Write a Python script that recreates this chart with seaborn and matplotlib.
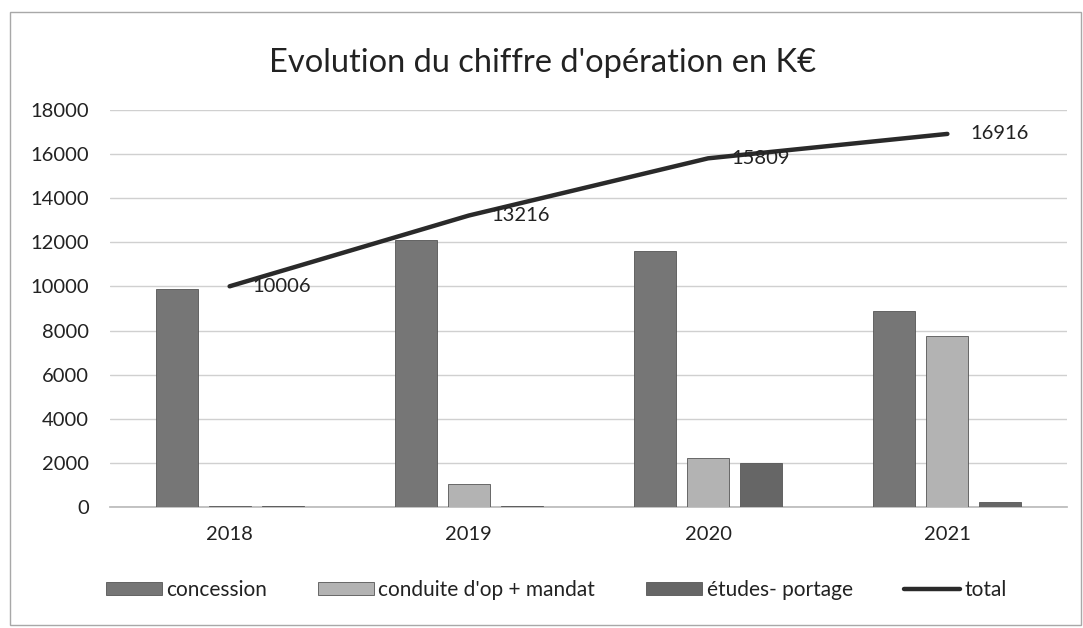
import numpy as np
import pandas as pd
import matplotlib
matplotlib.use("Agg")
import matplotlib.pyplot as plt
from matplotlib.patches import Rectangle
import seaborn as sns

# chart values
years = ["2018", "2019", "2020", "2021"]
concession = [9900, 12100, 11600, 8900]
conduite = [56, 1050, 2200, 7770]
etudes = [50, 66, 2009, 246]
total = [10006, 13216, 15809, 16916]
series_names = ["concession", "conduite d'op + mandat", "études- portage"]

df = pd.DataFrame({
    "annee": years * 3,
    "serie": [series_names[0]] * 4 + [series_names[1]] * 4 + [series_names[2]] * 4,
    "valeur": concession + conduite + etudes,
})

sns.set_theme(style="white")
plt.rcParams["font.family"] = ["Lato", "DejaVu Sans"]

fig = plt.figure(figsize=(10.83, 6.28), dpi=100)
ax = fig.add_axes([110 / 1083, 1 - 507 / 628, 957 / 1083, 397 / 628])

palette = {series_names[0]: "#767676", series_names[1]: "#b3b3b3", series_names[2]: "#666666"}
sns.barplot(data=df, x="annee", y="valeur", hue="serie", hue_order=series_names,
            palette=palette, width=0.665, gap=0.21, edgecolor="#555555", linewidth=0.6,
            saturation=1, ax=ax, zorder=3)

x_pos = np.arange(len(years))
sns.lineplot(x=x_pos, y=total, color="#2a2a2a", linewidth=3.2, ax=ax, label="total",
             zorder=4)

# data labels on the total line
for xi, v in zip(x_pos, total):
    ax.annotate(str(v), (xi, v), xytext=(16.5, 0), textcoords="offset points",
                ha="left", va="center", fontsize=14.5, color="#222222", zorder=5)

ax.set_xlim(-0.5, 3.5)
ax.set_ylim(0, 18000)
ax.set_yticks(range(0, 18001, 2000))
ax.grid(axis="y", color="#d0d0d0", linewidth=1, zorder=0)
ax.set_axisbelow(True)
for side in ["top", "right", "left"]:
    ax.spines[side].set_visible(False)
ax.spines["bottom"].set_color("#bbbbbb")
ax.spines["bottom"].set_zorder(2)
ax.tick_params(axis="y", length=0, pad=15, labelsize=14.5, labelcolor="#222222")
ax.tick_params(axis="x", length=0, pad=14, labelsize=14.5, labelcolor="#222222")
ax.set_xlabel("")
ax.set_ylabel("")

fig.text(0.501, 1 - 63 / 628, "Evolution du chiffre d'opération en K€", ha="center",
         va="center", fontsize=23.5, color="#222222")

handles, labels = ax.get_legend_handles_labels()
ax.legend(handles, labels, loc="center", bbox_to_anchor=(0.466, (1 - 590 / 628 - (1 - 507 / 628)) / (397 / 628)),
          ncol=4, frameon=False, fontsize=15, handlelength=2.7, handleheight=0.6,
          handletextpad=0.2, columnspacing=2.45, labelcolor="#222222")

# outer chart frame
fig.patches.append(Rectangle((10 / 1083, 1 - 625 / 628), 1071 / 1083, 613 / 628,
                             transform=fig.transFigure, fill=False,
                             edgecolor="#a8a8a8", linewidth=1))

fig.savefig("out.png", dpi=100, facecolor="white")
